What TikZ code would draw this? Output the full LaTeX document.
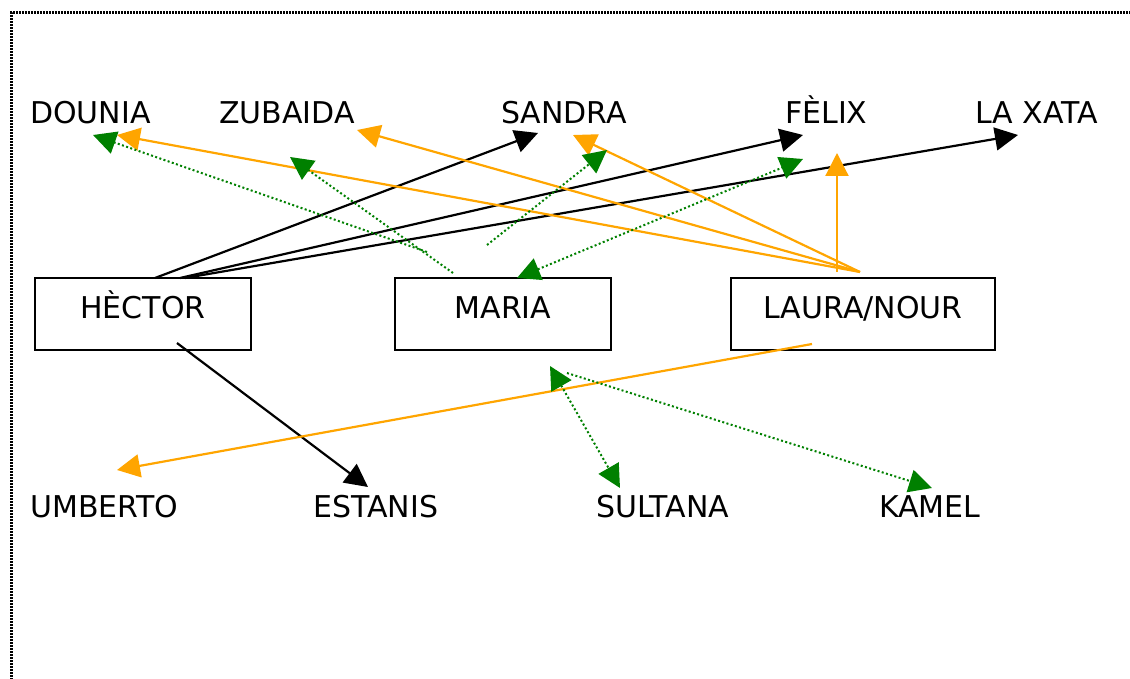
\documentclass[tikz,border=0pt]{standalone}
\usepackage{fontspec}
\setmainfont{DejaVu Sans}
\usetikzlibrary{arrows.meta}
\definecolor{arrorange}{HTML}{FFA500}
\definecolor{arrgreen}{HTML}{008000}
\begin{document}
\begin{tikzpicture}[x=1pt,y=-1pt,
  lbl/.style={anchor=base west,inner sep=0pt,font=\fontsize{30}{30}\selectfont},
  pbox/.style={draw,line width=2pt,minimum width=216pt,minimum height=72pt,inner sep=0pt,
     text height=21pt,text depth=12pt,font=\fontsize{30}{30}\selectfont},
  arrtip/.style={-{Triangle[length=23pt,width=23pt]}},
  blk/.style={arrtip,line width=2.2pt,black},
  org/.style={arrtip,line width=2.2pt,arrorange},
  grn/.style={arrtip,line width=2pt,arrgreen,dash pattern=on 2pt off 2.4pt},
  gboth/.style={grn,{Triangle[length=23pt,width=23pt]}-{Triangle[length=23pt,width=23pt]}},
  frameline/.style={line width=3pt,dash pattern=on 1.6pt off 1.4pt}]
\useasboundingbox (0,0) rectangle (1130,679);
% frame
\draw[frameline] (11,680) -- (11,13) -- (1131,13);
% names
\node[lbl] (dounia) at (30,124) {DOUNIA};
\node[lbl] (zubaida) at (219,124) {ZUBAIDA};
\node[lbl] (sandra) at (501,124) {SANDRA};
\node[lbl] (felix) at (785,124) {FÈLIX};
\node[lbl] (xata) at (975,124) {LA XATA};
\node[lbl] (umberto) at (30,517) {UMBERTO};
\node[lbl] (estanis) at (313,517) {ESTANIS};
\node[lbl] (sultana) at (596,517) {SULTANA};
\node[lbl] (kamel) at (879,517) {KAMEL};
% boxes
\node[pbox] (hector) at (143,314) {HÈCTOR};
\node[pbox] (maria) at (503,314) {MARIA};
\node[pbox,minimum width=264pt] (laura) at (863,314) {LAURA/NOUR};
% connector end points
\coordinate (h1) at (155,278);
\coordinate (h2) at (180,278);
\coordinate (h3) at (185,278);
\coordinate (hb) at (177,343);
\coordinate (tS) at (538,133);
\coordinate (tF) at (803,135);
\coordinate (tX) at (1018,135);
\coordinate (tE) at (368,487);
\coordinate (l1) at (860,272);
\coordinate (lv) at (837,272);
\coordinate (lb) at (812,344);
\coordinate (oD) at (117,135);
\coordinate (oZ) at (357,130);
\coordinate (oS) at (573,135);
\coordinate (oF) at (837,153);
\coordinate (oU) at (117,470);
\coordinate (g1) at (427,252);
\coordinate (gD) at (93,135);
\coordinate (g2) at (453,273);
\coordinate (gZ) at (290,157);
\coordinate (g3) at (487,245);
\coordinate (gS) at (607,150);
\coordinate (gM) at (517,278);
\coordinate (gF) at (803,159);
\coordinate (gb1) at (550,366);
\coordinate (gb2) at (567,373);
\coordinate (gSu) at (620,488);
\coordinate (gK) at (932,488);
% black connectors (HÈCTOR)
\draw[blk] (h1) -- (tS);
\draw[blk] (h2) -- (tF);
\draw[blk] (h3) -- (tX);
\draw[blk] (hb) -- (tE);
% orange connectors (LAURA/NOUR)
\draw[org] (l1) -- (oD);
\draw[org] (l1) -- (oZ);
\draw[org] (l1) -- (oS);
\draw[org] (lv) -- (oF);
\draw[org] (lb) -- (oU);
% green connectors (MARIA)
\draw[grn] (g1) -- (gD);
\draw[grn] (g2) -- (gZ);
\draw[grn] (g3) -- (gS);
\draw[gboth] (gM) -- (gF);
\draw[gboth] (gb1) -- (gSu);
\draw[grn] (gb2) -- (gK);
\end{tikzpicture}
\end{document}
